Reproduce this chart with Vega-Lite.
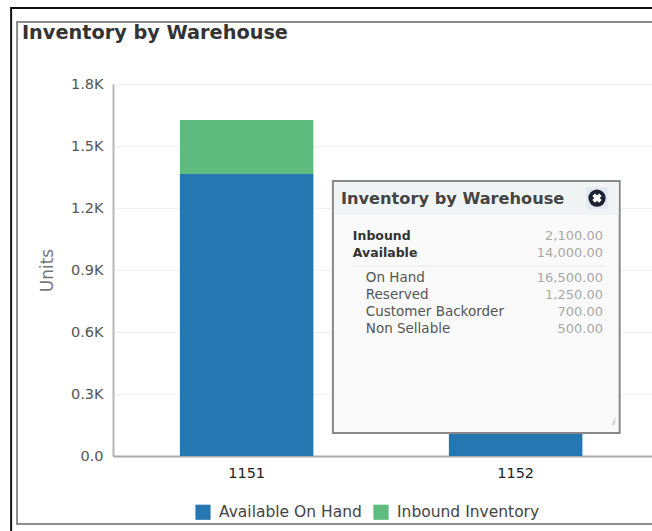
{
"$schema":"https://vega.github.io/schema/vega-lite/v6.json",
"width":539,"height":372,
"autosize":"none",
"padding":{"left":113,"top":84,"right":0,"bottom":75},
"background":"#ffffff",
"config":{"view":{"stroke":null},"text":{"font":"DejaVu Sans"}},
"datasets":{
 "inventory":[
  {"warehouse":"1151","series":"Available On Hand","units":1365},
  {"warehouse":"1151","series":"Inbound Inventory","units":261},
  {"warehouse":"1152","series":"Available On Hand","units":1100},
  {"warehouse":"1152","series":"Inbound Inventory","units":120}
 ],
 "titleRow":[{"title":"Inventory by Warehouse"}],
 "summary":[{"label":"Inbound","amount":"2,100.00"},{"label":"Available","amount":"14,000.00"}],
 "detail":[{"label":"On Hand","amount":"16,500.00"},{"label":"Reserved","amount":"1,250.00"},{"label":"Customer Backorder","amount":"700.00"},{"label":"Non Sellable","amount":"500.00"}],
 "allRows":[{"label":"Inbound","amount":"2,100.00"},{"label":"Available","amount":"14,000.00"},{"label":"On Hand","amount":"16,500.00"},{"label":"Reserved","amount":"1,250.00"},{"label":"Customer Backorder","amount":"700.00"},{"label":"Non Sellable","amount":"500.00"}],
 "grip":[{"a":92.6,"b":93.2,"c":150,"d":185},{"a":92.9,"b":93.2,"c":150,"d":168}]
},
"resolve":{"scale":{"x":"independent","y":"independent"}},
"layer":[
 {"data":{"name":"titleRow"},"mark":{"type":"rect","fill":null,"stroke":"#111111","strokeWidth":2,"clip":false},
  "encoding":{"x":{"datum":-18.9,"type":"quantitative","scale":{"domain":[0,100]},"axis":null},"x2":{"datum":110},"y":{"datum":2168,"type":"quantitative","scale":{"domain":[0,1800],"nice":false},"axis":null},"y2":{"datum":-406}}},
 {"data":{"name":"titleRow"},"mark":{"type":"rect","fill":null,"stroke":"#8c8c8c","strokeWidth":2},
  "encoding":{"x":{"datum":-17.8,"type":"quantitative","scale":{"domain":[0,100]},"axis":null},"x2":{"datum":110},"y":{"datum":2100,"type":"quantitative","scale":{"domain":[0,1800],"nice":false},"axis":null},"y2":{"datum":-329}}},
 {"data":{"name":"inventory"},"mark":{"type":"bar"},
  "encoding":{
   "x":{"field":"warehouse","type":"nominal","scale":{"paddingInner":0.5037,"paddingOuter":0.2537,"align":0.49},"axis":{"title":null,"labelAngle":0,"labelFont":"DejaVu Sans","labelFontSize":14.5,"labelColor":"#222222","labelPadding":10,"ticks":false,"domainColor":"#aaaaaa","domainWidth":2,"grid":false}},
   "y":{"field":"units","type":"quantitative","stack":"zero","scale":{"domain":[0,1800],"nice":false},
    "axis":{"title":"Units","titleFont":"DejaVu Sans","titleFontWeight":"normal","titleFontSize":17,"titleColor":"#777777","titlePadding":14,"values":[0,300,600,900,1200,1500,1800],"labelExpr":"datum.value==0?'0.0':format(datum.value/1000,'.1f')+'K'","labelFont":"DejaVu Sans","labelFontSize":14.5,"labelColor":"#555555","labelPadding":10,"ticks":false,"domainColor":"#b5b5b5","domainWidth":2,"grid":true,"gridColor":"#f0f0f0"}},
   "color":{"field":"series","type":"nominal","scale":{"domain":["Available On Hand","Inbound Inventory"],"range":["#2577b1","#60bb7e"]},
    "legend":{"title":null,"orient":"none","direction":"horizontal","legendX":82,"legendY":420,"symbolType":"square","symbolSize":230,"symbolStrokeWidth":0,"labelFont":"DejaVu Sans","labelFontSize":15.5,"labelColor":"#444444","columnPadding":11,"labelOffset":8}},
   "order":{"field":"series","sort":"ascending"}
  }},
 {"data":{"name":"titleRow"},"mark":{"type":"text","align":"left","baseline":"middle","fontSize":19.3,"fontWeight":"bold","color":"#333333"},
  "encoding":{"x":{"datum":-16.9,"type":"quantitative","scale":{"domain":[0,100]},"axis":null},"y":{"datum":2047,"type":"quantitative","scale":{"domain":[0,1800],"nice":false},"axis":null},"text":{"field":"title"}}},
 {"data":{"name":"titleRow"},"mark":{"type":"rect","fill":"#fafafa","stroke":"#888888","strokeWidth":2},
  "encoding":{"x":{"datum":40.8,"type":"quantitative","scale":{"domain":[0,100]},"axis":null},"x2":{"datum":94},"y":{"datum":1330.6,"type":"quantitative","scale":{"domain":[0,1800],"nice":false},"axis":null},"y2":{"datum":111.3}}},
 {"data":{"name":"titleRow"},"mark":{"type":"rect","fill":"#f1f4f5"},
  "encoding":{"x":{"datum":41,"type":"quantitative","scale":{"domain":[0,100]},"axis":null},"x2":{"datum":93.8},"y":{"datum":1325,"type":"quantitative","scale":{"domain":[0,1800],"nice":false},"axis":null},"y2":{"datum":1166}}},
 {"data":{"name":"titleRow"},"mark":{"type":"rect","fill":"#e3e9f3"},
  "encoding":{"x":{"datum":87.8,"type":"quantitative","scale":{"domain":[0,100]},"axis":null},"x2":{"datum":91.8},"y":{"datum":1300,"type":"quantitative","scale":{"domain":[0,1800],"nice":false},"axis":null},"y2":{"datum":1195}}},
 {"data":{"name":"titleRow"},"mark":{"type":"point","shape":"circle","filled":true,"color":"#1b2232","size":300,"opacity":1},
  "encoding":{"x":{"datum":89.8,"type":"quantitative","scale":{"domain":[0,100]},"axis":null},"y":{"datum":1248,"type":"quantitative","scale":{"domain":[0,1800],"nice":false},"axis":null}}},
 {"data":{"name":"titleRow"},"mark":{"type":"point","shape":"cross","angle":45,"filled":true,"color":"#ffffff","size":90,"opacity":1},
  "encoding":{"x":{"datum":89.8,"type":"quantitative","scale":{"domain":[0,100]},"axis":null},"y":{"datum":1248,"type":"quantitative","scale":{"domain":[0,1800],"nice":false},"axis":null}}},
 {"data":{"name":"titleRow"},"mark":{"type":"rule","color":"#e8e8e8","strokeWidth":1},
  "encoding":{"x":{"datum":44.3,"type":"quantitative","scale":{"domain":[0,100]},"axis":null},"x2":{"datum":91.3},"y":{"datum":919,"type":"quantitative","scale":{"domain":[0,1800],"nice":false},"axis":null}}},
 {"data":{"name":"grip"},"mark":{"type":"rule","color":"#c4c4c4","strokeWidth":1},
  "encoding":{"x":{"field":"a","type":"quantitative","scale":{"domain":[0,100]},"axis":null},"x2":{"field":"b"},"y":{"field":"c","type":"quantitative","scale":{"domain":[0,1800],"nice":false},"axis":null},"y2":{"field":"d"}}},
 {"data":{"name":"titleRow"},"mark":{"type":"text","align":"left","baseline":"middle","fontSize":16.2,"fontWeight":"bold","color":"#444444"},
  "encoding":{"x":{"datum":42.3,"type":"quantitative","scale":{"domain":[0,100]},"axis":null},"y":{"datum":1243.5,"type":"quantitative","scale":{"domain":[0,1800],"nice":false},"axis":null},"text":{"field":"title"}}},
 {"data":{"name":"summary"},"mark":{"type":"text","align":"left","baseline":"middle","fontSize":12.5,"fontWeight":"bold","color":"#333333"},
  "encoding":{"x":{"datum":44.5,"type":"quantitative","scale":{"domain":[0,100]},"axis":null},"y":{"field":"label","type":"ordinal","sort":null,"scale":{"type":"point","padding":0,"domain":["Inbound"," a","Available"," b"," c","On Hand"," d","Reserved"," e","Customer Backorder"," f","Non Sellable"],"range":[152,245]},"axis":null},"text":{"field":"label"}}},
 {"data":{"name":"detail"},"mark":{"type":"text","align":"left","baseline":"middle","fontSize":13.5,"color":"#555555"},
  "encoding":{"x":{"datum":46.9,"type":"quantitative","scale":{"domain":[0,100]},"axis":null},"y":{"field":"label","type":"ordinal","sort":null,"scale":{"type":"point","padding":0,"domain":["Inbound"," a","Available"," b"," c","On Hand"," d","Reserved"," e","Customer Backorder"," f","Non Sellable"],"range":[152,245]},"axis":null},"text":{"field":"label"}}},
 {"data":{"name":"allRows"},"mark":{"type":"text","align":"right","baseline":"middle","fontSize":13,"color":"#a8a8a8"},
  "encoding":{"x":{"datum":90.9,"type":"quantitative","scale":{"domain":[0,100]},"axis":null},"y":{"field":"label","type":"ordinal","sort":null,"scale":{"type":"point","padding":0,"domain":["Inbound"," a","Available"," b"," c","On Hand"," d","Reserved"," e","Customer Backorder"," f","Non Sellable"],"range":[152,245]},"axis":null},"text":{"field":"amount"}}}
]
}
